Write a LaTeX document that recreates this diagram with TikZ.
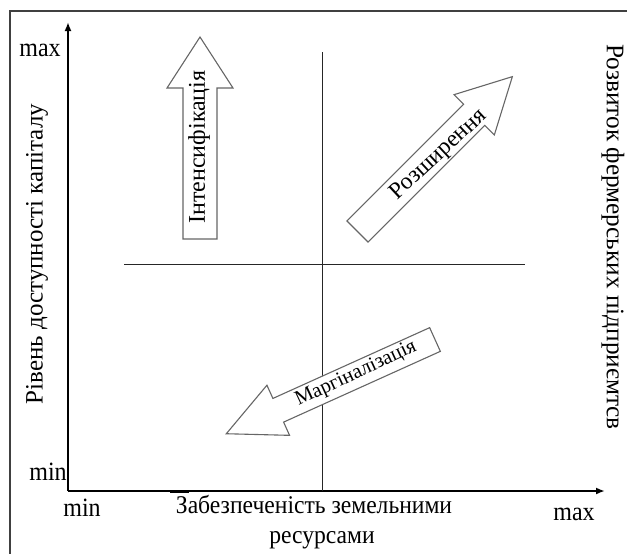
\documentclass[tikz,border=0pt]{standalone}
\usepackage{fontspec}
\setmainfont{Liberation Serif}
\usetikzlibrary{arrows.meta}
\tikzset{
  lbl/.style={inner sep=0pt, font=\fontsize{24}{26}\selectfont},
  axis/.style={line width=1.8pt, -{Latex[length=9pt,width=7pt]}},
  divider/.style={line width=1pt, black!85},
  blockarrow/.style={draw=black!60, line width=1.1pt, fill=white, line join=miter},
  arrtext/.style={inner sep=0pt, font=\fontsize{22}{24}\selectfont},
}
\begin{document}
\begin{tikzpicture}[x=1pt,y=-1pt]
\useasboundingbox (0,0) rectangle (627,554);
% frame
\draw[line width=1.6pt, black!75] (10,560) -- (10,11) -- (640,11);
% axes
\coordinate (O) at (68,491);
\coordinate (Ytop) at (68,22);
\coordinate (Xend) at (605,491);
\draw[axis] (O) -- (Ytop);
\draw[axis] (O) -- (Xend);
\coordinate (t1) at (170,491);
\coordinate (t2) at (189,491);
\draw[line width=3pt] (t1) -- (t2);
% dividers
\coordinate (v1) at (322,52);
\coordinate (v2) at (322,491);
\coordinate (h1) at (124,264);
\coordinate (h2) at (525,264);
\draw[divider] (v1) -- (v2);
\draw[divider] (h1) -- (h2);
% block arrows
% Intensification: tail (200,239), up
\begin{scope}[shift={(200,239)}, rotate=90]
\draw[blockarrow] (0,17) -- (151,17) -- (151,33) -- (202,0) -- (151,-33) -- (151,-17) -- (0,-17) -- cycle;
\end{scope}
% Expansion: tail (357.5,231.5), 45 deg
\begin{scope}[shift={(357.5,231.5)}, rotate=45]
\draw[blockarrow] (0,15) -- (165,15) -- (165,28.5) -- (219,0) -- (165,-28.5) -- (165,-15) -- (0,-15) -- cycle;
\end{scope}
% Marginalization: tail (435,339.5), 204.3 deg
\begin{scope}[shift={(435,339.5)}, rotate=204.3]
\draw[blockarrow] (0,13) -- (172,13) -- (172,27.5) -- (229,0) -- (172,-27.5) -- (172,-13) -- (0,-13) -- cycle;
\end{scope}
% arrow texts
\node[arrtext, rotate=90, font=\fontsize{24}{26}\selectfont] (tint) at (199,147) {Інтенсифікація};
\node[arrtext, rotate=43, font=\fontsize{23.5}{25}\selectfont] (texp) at (439,155) {Розширення};
\node[arrtext, rotate=25, font=\fontsize{20.5}{22}\selectfont] (tmar) at (356,374) {Маргіналізація};
% axis labels
\node[lbl, yscale=1.1] (ymax) at (40,50) {max};
\node[lbl, yscale=1.1] (ymin) at (48,472) {min};
\node[lbl, yscale=1.1] (xmin) at (82,508) {min};
\node[lbl, yscale=1.1] (xmax) at (574,514) {max};
\node[lbl, align=center, yscale=1.08, font=\fontsize{23.6}{28}\selectfont] (xlab) at (314,522) {Забезпеченість земельними\\\hspace*{16pt}ресурсами};
\node[lbl, rotate=90, font=\fontsize{25}{27}\selectfont] (ylab) at (37,254) {Рівень доступності капіталу};
\node[lbl, rotate=-90, font=\fontsize{25.3}{27}\selectfont] (rlab) at (613,237) {Розвиток фермерських підприємтсв};
\end{tikzpicture}
\end{document}
